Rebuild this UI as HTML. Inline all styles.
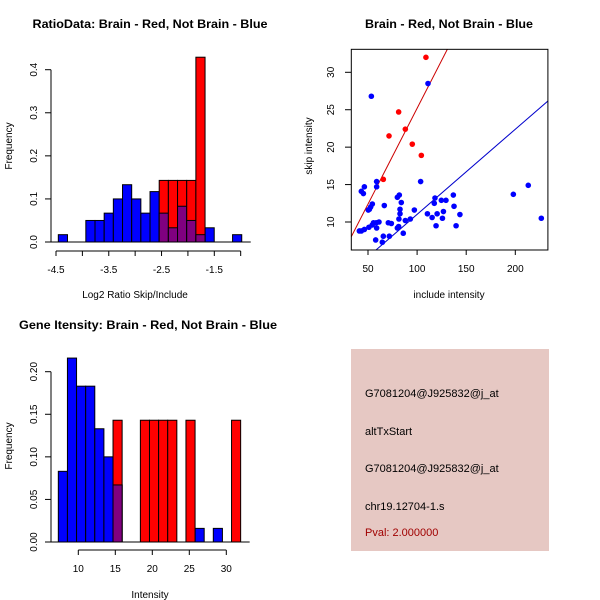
<!DOCTYPE html>
<html><head><meta charset="utf-8"><style>
body{margin:0;background:#fff}
svg{display:block;font-family:"Liberation Sans",sans-serif}
</style></head><body>
<svg id="c" width="600" height="600" viewBox="0 0 600 600" xmlns="http://www.w3.org/2000/svg">
<rect width="600" height="600" fill="#fff"/>
<g id="p1"></g>
<g id="p2"></g>
<g id="p3"></g>
<g id="p4">
<rect x="351" y="349" width="198" height="202" fill="#e6c8c3"/>
<text x="365" y="397" font-size="11">G7081204@J925832@j_at</text>
<text x="365" y="435" font-size="11">altTxStart</text>
<text x="365" y="472" font-size="11">G7081204@J925832@j_at</text>
<text x="365" y="510" font-size="11">chr19.12704-1.s</text>
<text x="365" y="536" font-size="11" fill="#a00000">Pval: 2.000000</text>
</g>
</svg>
<script>
// ---- Plot 1 data ----
const p1BinStart = -4.456;
const p1BinWidth = 0.1738;
const p1Blue = [0.017,0,0,0.05,0.05,0.067,0.1,0.133,0.1,0.067,0.117,0.067,0.033,0.083,0.05,0.017,0.033,0,0,0.017];
const p1Red  = [0,0,0,0,0,0,0,0,0,0,0,0.143,0.143,0.143,0.143,0.429,0,0,0,0];
const p1XTicks = [-4.5,-3.5,-2.5,-1.5];
const p1XMinor = [-4.5,-4,-3.5,-3,-2.5,-2,-1.5,-1];
const p1YTicks = [0,0.1,0.2,0.3,0.4];
const p1YLabels = ["0.0","0.1","0.2","0.3","0.4"];
// ---- Plot 2 data ----
const redX = [109,81.2,88,71.4,95.1,104.3,65.6];
const redY = [32.0,24.7,22.4,21.5,20.4,18.9,15.7];
const blueX = [53.4,111.1,103.6,58.8,58.8,46.3,43.2,45.3,54.4,52.7,51.4,50.3,66.6,79.9,81.9,83.9,82.6,82.6,81.5,88,93.1,97.2,50.9,54.3,55.6,58.3,61.2,58.8,70.7,73.8,79.9,81.2,41.2,43.2,46.3,65.6,71.7,57.8,64.6,85.9,118.2,117.5,124.7,129.4,136.9,137.6,126.8,110.5,120.4,115.3,125.8,143.6,119.3,139.7,198,213.2,226.5];
const blueY = [26.8,28.5,15.4,15.4,14.7,14.7,14.1,13.8,12.4,12.0,11.7,11.6,12.2,13.3,13.6,12.6,11.7,11.1,10.4,10.2,10.4,11.6,9.3,9.6,9.9,9.9,10.0,9.2,9.9,9.8,9.2,9.4,8.8,8.8,9.0,8.1,8.1,7.6,7.3,8.5,13.2,12.5,12.9,12.9,13.6,12.1,11.4,11.1,11.1,10.6,10.5,11.0,9.5,9.5,13.7,14.9,10.5];
const redLine = [0.256,-0.41];
const blueLine = [0.1137,-0.35];
const p2XTicks = [50,100,150,200];
const p2YTicks = [10,15,20,25,30];
// ---- Plot 3 data ----
const p3BinStart = 7.3;
const p3BinWidth = 1.232;
const p3Blue = [0.083,0.216,0.183,0.183,0.133,0.1,0.067,0,0,0,0,0,0,0,0,0.016,0,0.016,0,0];
const p3Red  = [0,0,0,0,0,0,0.143,0,0,0.143,0.143,0.143,0.143,0,0.143,0,0,0,0,0.143];
const p3XTicks = [10,15,20,25,30];
const p3YTicks = [0,0.05,0.10,0.15,0.20];
const p3YLabels = ["0.00","0.05","0.10","0.15","0.20"];

const NS="http://www.w3.org/2000/svg";
function mk(parent,tag,attrs,txt){const e=document.createElementNS(NS,tag);for(const k in attrs)e.setAttribute(k,attrs[k]);if(txt!==undefined)e.textContent=txt;parent.appendChild(e);return e;}
function lin(d0,d1,r0,r1){return v=>r0+(v-d0)*(r1-r0)/(d1-d0);}

function title(g,x,y,s){const t=mk(g,'text',{x:x,y:y,'font-size':12,'font-weight':'bold','text-anchor':'middle',textLength:235,lengthAdjust:'spacingAndGlyphs'},s);

return t;}
function ylab(g,x,y,s){const t=mk(g,'text',{x:x,y:y,'font-size':10,'text-anchor':'middle',transform:`rotate(-90 ${x} ${y})`},s);

}
function xlab(g,x,y,s){const t=mk(g,'text',{x:x,y:y,'font-size':10,'text-anchor':'middle'},s);

}
function yaxis(g,sy,ticks,labels,ax){
  const l=mk(g,'line',{x1:ax,x2:ax,y1:sy(ticks[0]),y2:sy(ticks[ticks.length-1]),stroke:'#000'});
  
  
  ticks.forEach((v,i)=>{const y=sy(v);mk(g,'line',{x1:ax-6,x2:ax,y1:y,y2:y,stroke:'#000'});
    const lx=ax-14;
    const t=mk(g,'text',{x:lx,y:y,'font-size':10,'text-anchor':'middle',transform:`rotate(-90 ${lx} ${y})`},labels[i]);
    
    });
}
function xaxis(g,sx,ticks,labels,ay){
  const l=mk(g,'line',{x1:sx(ticks[0]),x2:sx(ticks[ticks.length-1]),y1:ay,y2:ay,stroke:'#000'});
  
  
  ticks.forEach((v,i)=>{const x=sx(v);mk(g,'line',{x1:x,x2:x,y1:ay,y2:ay+5,stroke:'#000'});
    if(labels[i]!==''){const t=mk(g,'text',{x:x,y:ay+22,'font-size':10,'text-anchor':'middle'},labels[i]);
    
    }});
}
function hist(g,sx,sy,start,w,blue,red){
  const y0=sy(0);
  blue.forEach((v,i)=>{if(v<=0)return;const x0=sx(start+i*w),x1=sx(start+(i+1)*w);
    const r=mk(g,'rect',{x:x0,y:sy(v),width:x1-x0,height:y0-sy(v),fill:'#0000ff',stroke:'#000','stroke-width':1});
    
    });
  red.forEach((v,i)=>{if(v<=0)return;const x0=sx(start+i*w),x1=sx(start+(i+1)*w);
    const r=mk(g,'rect',{x:x0,y:sy(v),width:x1-x0,height:y0-sy(v),fill:'#ff0000',stroke:'#000','stroke-width':1});
    
    
    const b=blue[i];if(b>0){const o=mk(g,'rect',{x:x0,y:sy(b),width:x1-x0,height:y0-sy(b),fill:'#800080',stroke:'#000','stroke-width':1});
    
    }});
  const base=mk(g,'line',{x1:sx(start)-9,x2:sx(start+blue.length*w)+9,y1:y0,y2:y0,stroke:'#000'});
  
  
}
// Plot 1
(function(){const g=document.getElementById('p1');
  const sx=lin(-4.5,-1.5,56,214.3), sy=lin(0,0.4,242,69.7);
  title(g,150,28,'RatioData: Brain - Red, Not Brain - Blue');
  hist(g,sx,sy,p1BinStart,p1BinWidth,p1Blue,p1Red);
  yaxis(g,sy,p1YTicks,p1YLabels,51);
  xaxis(g,sx,p1XMinor,p1XMinor.map(v=>p1XTicks.includes(v)?String(v):''),251);
  ylab(g,12,146,'Frequency'); xlab(g,135,298,'Log2 Ratio Skip/Include');
})();
// Plot 2
(function(){const g=document.getElementById('p2');
  const sx=lin(50,200,368,515.3), sy=lin(10,30,222,72.3);
  const xmin=33,xmax=233.2,ymin=6.26,ymax=33.07;
  const t=title(g,449,28,'Brain - Red, Not Brain - Blue');t.setAttribute('textLength',168);
  const cp=mk(g,'clipPath',{id:'clip2'});mk(cp,'rect',{x:sx(xmin),y:sy(ymax),width:sx(xmax)-sx(xmin),height:sy(ymin)-sy(ymax)});
  const cg=mk(g,'g',{'clip-path':'url(#clip2)'});
  function fit(c,col,name){const l=mk(cg,'line',{x1:sx(xmin),y1:sy(c[0]*xmin+c[1]),x2:sx(xmax),y2:sy(c[0]*xmax+c[1]),stroke:col,'stroke-width':1});
    
    }
  fit(redLine,'#cc0000','brain-fit-line'); fit(blueLine,'#0000cc','not-brain-fit-line');
  blueX.forEach((x,i)=>{const c=mk(cg,'circle',{cx:sx(x),cy:sy(blueY[i]),r:2.8,fill:'#0000ff'});
    
    });
  redX.forEach((x,i)=>{const c=mk(cg,'circle',{cx:sx(x),cy:sy(redY[i]),r:2.8,fill:'#ff0000'});
    
    });
  const box=mk(g,'rect',{x:sx(xmin),y:sy(ymax),width:sx(xmax)-sx(xmin),height:sy(ymin)-sy(ymax),fill:'none',stroke:'#000'});
  
  
  p2XTicks.forEach(v=>{const x=sx(v);mk(g,'line',{x1:x,x2:x,y1:250,y2:255,stroke:'#000'});
    const t=mk(g,'text',{x:x,y:272,'font-size':10,'text-anchor':'middle'},String(v));
    
    });
  p2YTicks.forEach(v=>{const y=sy(v);mk(g,'line',{x1:345,x2:351.3,y1:y,y2:y,stroke:'#000'});
    const t=mk(g,'text',{x:334,y:y,'font-size':10,'text-anchor':'middle',transform:`rotate(-90 334 ${y})`},String(v));
    
    });
  ylab(g,312,146,'skip intensity'); xlab(g,449,298,'include intensity');
})();
// Plot 3
(function(){const g=document.getElementById('p3');
  const sx=lin(10,30,78.3,226.3), sy=lin(0,0.2,542,371.7);
  const t=title(g,148,329,'Gene Itensity: Brain - Red, Not Brain - Blue');t.setAttribute('textLength',258);
  hist(g,sx,sy,p3BinStart,p3BinWidth,p3Blue,p3Red);
  yaxis(g,sy,p3YTicks,p3YLabels,51);
  xaxis(g,sx,p3XTicks,p3XTicks.map(String),550);
  ylab(g,12,446,'Frequency'); xlab(g,150,598,'Intensity');
})();
</script>
</body></html>
